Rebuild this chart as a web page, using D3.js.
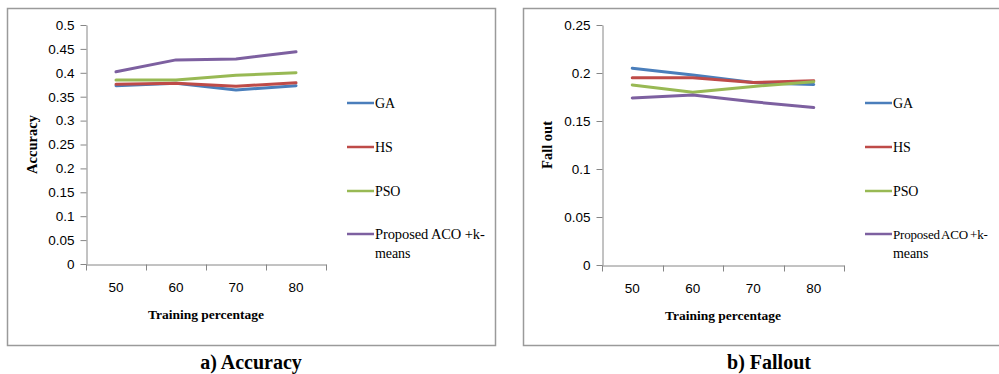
<!DOCTYPE html>
<html>
<head>
<meta charset="utf-8">
<script src="https://cdn.jsdelivr.net/npm/d3@7/dist/d3.min.js"></script>
<style>
  body { margin: 0; background: #fff; }
  svg text { fill: #000; }
</style>
</head>
<body>
<svg id="chart" width="999" height="374"></svg>
<script>
"use strict";

// data
var categories = ["50", "60", "70", "80"];
var seriesNames = ["GA", "HS", "PSO", "Proposed ACO +k-means"];
var seriesColors = ["#4a7ebb", "#be4b48", "#98b954", "#7d60a0"];

var accuracyGA = [0.373, 0.378, 0.364, 0.373];
var accuracyHS = [0.376, 0.378, 0.372, 0.379];
var accuracyPSO = [0.385, 0.385, 0.395, 0.400];
var accuracyACO = [0.402, 0.427, 0.429, 0.444];
var accuracyTicks = [0, 0.05, 0.1, 0.15, 0.2, 0.25, 0.3, 0.35, 0.4, 0.45, 0.5];

var falloutGA = [0.205, 0.198, 0.190, 0.188];
var falloutHS = [0.195, 0.195, 0.190, 0.192];
var falloutPSO = [0.1875, 0.180, 0.186, 0.191];
var falloutACO = [0.174, 0.177, 0.170, 0.164];
var falloutTicks = [0, 0.05, 0.1, 0.15, 0.2, 0.25];

var svg = d3.select("#chart");

function drawPanel(opt) {
  var g = svg.append("g");

  // frame
  g.append("rect")
    .attr("x", opt.frame[0] + 0.5)
    .attr("y", opt.frame[1] + 0.5)
    .attr("width", opt.frame[2])
    .attr("height", opt.frame[3])
    .attr("fill", "none")
    .attr("stroke", "#9a9a9a")
    .attr("stroke-width", 1.5);

  var x = d3.scaleBand().domain(categories).range([opt.left, opt.right]);
  var y = d3.scaleLinear().domain([0, opt.max]).range([opt.bottom, opt.top]);

  // y axis
  var yAxis = g.append("g")
    .attr("transform", "translate(" + (opt.left + 0.5) + ",0)")
    .call(d3.axisLeft(y).tickValues(opt.ticks).tickSize(6).tickSizeOuter(0).tickPadding(6)
      .tickFormat(function(d) { return String(+d.toFixed(2)); }));
  yAxis.select(".domain").attr("stroke", "#868686");
  yAxis.selectAll(".tick line").attr("stroke", "#868686");
  yAxis.selectAll(".tick text")
    .attr("font-family", "'Liberation Sans Narrow', 'Liberation Sans', sans-serif")
    .attr("font-size", "13.5px");

  // x axis: labels centred, ticks on band edges
  var xAxis = g.append("g")
    .attr("transform", "translate(0," + (opt.bottom + 0.5) + ")")
    .call(d3.axisBottom(x).tickSize(0).tickSizeOuter(0).tickPadding(18));
  xAxis.select(".domain").attr("stroke", "#868686");
  xAxis.selectAll(".tick text")
    .attr("font-family", "'Liberation Sans Narrow', 'Liberation Sans', sans-serif")
    .attr("font-size", "13.5px");
  var edges = categories.map(function(c) { return x(c); }).concat([x.range()[1]]);
  xAxis.selectAll(".edge").data(edges).enter().append("line")
    .attr("x1", function(d) { return Math.round(d) + 0.5; })
    .attr("x2", function(d) { return Math.round(d) + 0.5; })
    .attr("y1", 0).attr("y2", 6)
    .attr("stroke", "#868686");

  // axis titles
  g.append("text")
    .attr("x", (opt.left + opt.right) / 2)
    .attr("y", opt.bottom + 55)
    .attr("text-anchor", "middle")
    .attr("font-family", "'Liberation Serif', serif")
    .attr("font-weight", "bold")
    .attr("font-size", "13.5px")
    .text("Training percentage");

  g.append("text")
    .attr("transform", "translate(" + opt.ytitleX + "," + ((opt.top + opt.bottom) / 2) + ") rotate(-90)")
    .attr("text-anchor", "middle")
    .attr("font-family", "'Liberation Serif', serif")
    .attr("font-weight", "bold")
    .attr("font-size", "14.5px")
    .text(opt.ytitle);

  // lines
  var line = d3.line()
    .x(function(d, i) { return x(categories[i]) + x.bandwidth() / 2; })
    .y(function(d) { return y(d); });

  opt.series.forEach(function(values, i) {
    g.append("path")
      .datum(values)
      .attr("d", line)
      .attr("fill", "none")
      .attr("stroke", seriesColors[i])
      .attr("stroke-width", 3)
      .attr("stroke-linejoin", "round")
      .attr("stroke-linecap", "round");
  });

  // legend
  var legendY = [103, 147, 191, 234];
  seriesNames.forEach(function(name, i) {
    var ly = legendY[i];
    g.append("line")
      .attr("x1", opt.legendX).attr("x2", opt.legendX + 27)
      .attr("y1", ly).attr("y2", ly)
      .attr("stroke", seriesColors[i])
      .attr("stroke-width", 2.5);
    var t = g.append("text")
      .attr("x", opt.legendX + 28)
      .attr("y", ly + 5)
      .attr("font-family", "'Liberation Serif', serif")
      .attr("font-size", "14px")
      .attr("letter-spacing", "-0.1px");
    if (name === "Proposed ACO +k-means") {
      // long entry wraps like the original; squeezed a bit on the right panel
      t.append("tspan")
        .attr("font-size", opt.longFont)
        .attr("letter-spacing", opt.longSpacing)
        .attr("word-spacing", opt.longWordSpacing)
        .text("Proposed ACO +k-");
      t.append("tspan").attr("x", opt.legendX + 28).attr("dy", 19).text("means");
    } else {
      t.text(name);
    }
  });

  // caption
  svg.append("text")
    .attr("x", opt.captionX)
    .attr("y", 369)
    .attr("text-anchor", "middle")
    .attr("font-family", "'Liberation Serif', serif")
    .attr("font-weight", "bold")
    .attr("font-size", "20px")
    .text(opt.caption);
}

drawPanel({
  frame: [7, 8, 488, 337],
  left: 86, right: 326, top: 25, bottom: 264,
  max: 0.5, ticks: accuracyTicks,
  series: [accuracyGA, accuracyHS, accuracyPSO, accuracyACO],
  ytitle: "Accuracy", ytitleX: 37,
  legendX: 347, longFont: "14.5px", longSpacing: "-0.1px", longWordSpacing: "0px",
  caption: "a) Accuracy", captionX: 251
});

drawPanel({
  frame: [523, 8, 480, 337],
  left: 602, right: 844, top: 25, bottom: 265,
  max: 0.25, ticks: falloutTicks,
  series: [falloutGA, falloutHS, falloutPSO, falloutACO],
  ytitle: "Fall out", ytitleX: 552,
  legendX: 865, longFont: "13px", longSpacing: "-0.2px", longWordSpacing: "-1px",
  caption: "b) Fallout", captionX: 769
});
</script>
</body>
</html>
